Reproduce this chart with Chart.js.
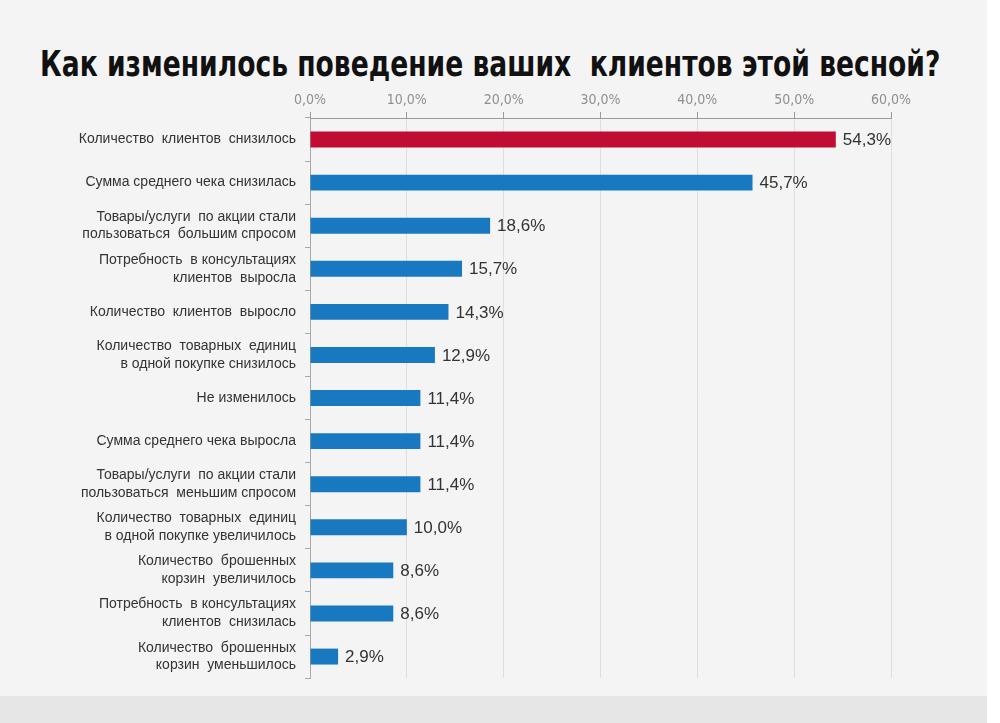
<!DOCTYPE html>
<html lang="ru">
<head>
<meta charset="utf-8">
<title>Как изменилось поведение ваших клиентов этой весной?</title>
<script src="https://cdn.jsdelivr.net/npm/chart.js@4.4.1/dist/chart.umd.min.js"></script>
<style>
    html, body { margin: 0; padding: 0; background: #ffffff; }
    #page { position: relative; width: 1000px; height: 723px; overflow: hidden; }
    #panel { position: absolute; left: 0; top: 0; width: 987px; height: 696px; background: #f4f4f4; }
    #band { position: absolute; left: 0; top: 696px; width: 987px; height: 27px; background: #e6e6e6; }
    #title {
        position: absolute; left: 40px; top: 43px;
        font-family: "DejaVu Sans Condensed", "Liberation Sans", sans-serif;
        font-weight: bold; font-size: 36px; color: #111; white-space: pre;
        transform-origin: 0 0;
    }
    #chart-box { position: absolute; left: 0; top: 0; width: 987px; height: 696px; }
</style>
</head>
<body>
<div id="page">
    <div id="panel"></div>
    <div id="band"></div>
    <span id="title">Как изменилось поведение ваших  клиентов этой весной?</span>
    <div id="chart-box"><canvas id="chart-behaviour"></canvas></div>
</div>

<script>
// ── Данные ────────────────────────────────────────────────
const categories = [
    'Количество  клиентов  снизилось',
    'Сумма среднего чека снизилась',
    ['Товары/услуги  по акции стали', 'пользоваться  большим спросом'],
    ['Потребность  в консультациях', 'клиентов  выросла'],
    'Количество  клиентов  выросло',
    ['Количество  товарных  единиц', 'в одной покупке снизилось'],
    'Не изменилось',
    'Сумма среднего чека выросла',
    ['Товары/услуги  по акции стали', 'пользоваться  меньшим спросом'],
    ['Количество  товарных  единиц', 'в одной покупке увеличилось'],
    ['Количество  брошенных', 'корзин  увеличилось'],
    ['Потребность  в консультациях', 'клиентов  снизилась'],
    ['Количество  брошенных', 'корзин  уменьшилось']
];
const shares = [54.3, 45.7, 18.6, 15.7, 14.3, 12.9, 11.4, 11.4, 11.4, 10.0, 8.6, 8.6, 2.9];
const xTicks = [0, 10, 20, 30, 40, 50, 60];

const RED = '#c10c33';
const BLUE = '#1878c0';
const barColors = shares.map((v, i) => i === 0 ? RED : BLUE);

const fmt = (v, d) => v.toFixed(d).replace('.', ',') + '%';

// заголовок — сжать по ширине, как в оригинале (узкий шрифт)
const titleEl = document.getElementById('title');
titleEl.style.transform = `scaleX(${900 / titleEl.offsetWidth})`;

// подписи значений справа от столбцов
const valueLabels = {
    id: 'valueLabels',
    afterDatasetsDraw(chart) {
        const { ctx } = chart;
        const meta = chart.getDatasetMeta(0);
        ctx.save();
        ctx.font = '17px "Liberation Sans", Arial, sans-serif';
        ctx.fillStyle = '#333333';
        ctx.textAlign = 'left';
        ctx.textBaseline = 'middle';
        meta.data.forEach((bar, i) => {
            ctx.fillText(fmt(shares[i], 1), bar.x + 7, bar.y + 1);
        });
        ctx.restore();
    }
};

new Chart(document.getElementById('chart-behaviour').getContext('2d'), {
    type: 'bar',
    data: {
        labels: categories,
        datasets: [{
            data: shares,
            backgroundColor: barColors,
            borderWidth: 0,
            barPercentage: 0.37,
            categoryPercentage: 1.0
        }]
    },
    options: {
        indexAxis: 'y',
        responsive: true,
        maintainAspectRatio: false,
        animation: false,
        layout: { padding: { left: 0, right: 96, top: 80, bottom: 6 } },
        plugins: {
            legend: { display: false },
            tooltip: { enabled: false }
        },
        scales: {
            x: {
                position: 'top',
                min: 0,
                max: 60,
                afterBuildTicks: scale => { scale.ticks = xTicks.map(v => ({ value: v })); },
                afterFit: scale => { scale.height = 38; },
                ticks: {
                    color: '#8f8f8f',
                    padding: 3,
                    font: { family: '"DejaVu Sans Condensed", sans-serif', size: 14 },
                    callback: v => fmt(v, 1)
                },
                grid: { color: '#dedede', tickColor: '#9a9a9a', tickLength: 6 },
                border: { color: '#9a9a9a' }
            },
            y: {
                afterFit: scale => { scale.width = 310; },
                ticks: {
                    color: '#333333',
                    padding: 9,
                    font: { family: '"Liberation Sans", Arial, sans-serif', size: 14, lineHeight: 1.27 }
                },
                grid: { drawOnChartArea: false, offset: true, color: '#a8a8a8', tickLength: 5 },
                border: { color: '#a8a8a8' }
            }
        }
    },
    plugins: [valueLabels]
});
</script>
</body>
</html>
